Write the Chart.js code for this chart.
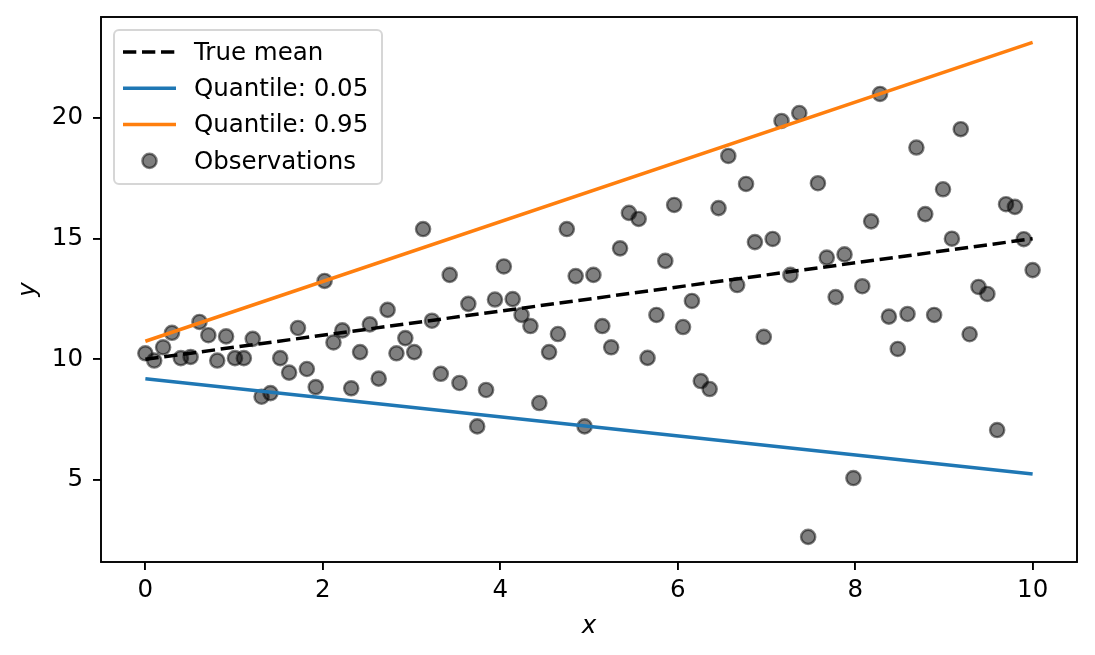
<!DOCTYPE html>
<html>
<head>
<meta charset="utf-8">
<script src="https://cdn.jsdelivr.net/npm/chart.js@4.4.1/dist/chart.umd.min.js"></script>
<style>
  html, body { margin: 0; padding: 0; background: #fff; }
  #wrap { width: 1095px; height: 655px; }
</style>
</head>
<body>
<div id="wrap"><canvas id="quantChart" width="1095" height="655"></canvas></div>
<script>
// observations (x grid and y values)
const xObs = [
  0.00, 0.10, 0.20, 0.30, 0.40, 0.51, 0.61, 0.71, 0.81, 0.91,
  1.01, 1.11, 1.21, 1.31, 1.41, 1.52, 1.62, 1.72, 1.82, 1.92,
  2.02, 2.12, 2.22, 2.32, 2.42, 2.53, 2.63, 2.73, 2.83, 2.93,
  3.03, 3.13, 3.23, 3.33, 3.43, 3.54, 3.64, 3.74, 3.84, 3.94,
  4.04, 4.14, 4.24, 4.34, 4.44, 4.55, 4.65, 4.75, 4.85, 4.95,
  5.05, 5.15, 5.25, 5.35, 5.45, 5.56, 5.66, 5.76, 5.86, 5.96,
  6.06, 6.16, 6.26, 6.36, 6.46, 6.57, 6.67, 6.77, 6.87, 6.97,
  7.07, 7.17, 7.27, 7.37, 7.47, 7.58, 7.68, 7.78, 7.88, 7.98,
  8.08, 8.18, 8.28, 8.38, 8.48, 8.59, 8.69, 8.79, 8.89, 8.99,
  9.09, 9.19, 9.29, 9.39, 9.49, 9.60, 9.70, 9.80, 9.90, 10.00
];
const yObs = [
  10.25, 9.95, 10.5, 11.1, 10.05, 10.1, 11.55, 11.0, 9.95, 10.95,
  10.05, 10.05, 10.85, 8.45, 8.6, 10.05, 9.45, 11.3, 9.6, 8.85,
  13.25, 10.7, 11.2, 8.8, 10.3, 11.45, 9.2, 12.05, 10.25, 10.88,
  10.3, 15.4, 11.6, 9.4, 13.5, 9.02, 12.3, 7.22, 8.73, 12.48,
  13.85, 12.5, 11.84, 11.38, 8.19, 10.3, 11.05, 15.4, 13.45, 7.22,
  13.5, 11.38, 10.5, 14.6, 16.07, 15.82, 10.06, 11.84, 14.08, 16.4,
  11.34, 12.42, 9.1, 8.77, 16.27, 18.43, 13.08, 17.27, 14.86, 10.93,
  14.99, 19.88, 13.5, 20.21, 2.64, 17.3, 14.22, 12.58, 14.35, 5.08,
  13.03, 15.72, 21.0, 11.77, 10.43, 11.88, 18.78, 16.02, 11.84, 17.05,
  15.0, 19.54, 11.04, 13.0, 12.71, 7.07, 16.43, 16.32, 14.98, 13.7
];

// straight lines: value at x = 0 and x = 10
const lineX = [0, 10];
const trueMean = [10, 15];
const q05 = [9.2, 5.25];
const q95 = [10.75, 23.14];

const seriesLabels = ['True mean', 'Quantile: 0.05', 'Quantile: 0.95', 'Observations'];
const xTicks = [0, 2, 4, 6, 8, 10];
const yTicks = [5, 10, 15, 20];

const FONT = 'DejaVu Sans';
const FSIZE = 24.5;

const toPoints = (xs, ys) => xs.map((x, i) => ({ x: x, y: ys[i] }));

// box round the plot, like the matplotlib spines
const frameBox = {
  id: 'frameBox',
  afterDatasetsDraw(chart) {
    const a = chart.chartArea;
    const ctx = chart.ctx;
    ctx.save();
    ctx.strokeStyle = '#000';
    ctx.lineWidth = 1.9;
    ctx.strokeRect(a.left, a.top, a.right - a.left, a.bottom - a.top);
    ctx.restore();
  }
};

// legend drawn in the upper left corner of the plot
const innerLegend = {
  id: 'innerLegend',
  afterDraw(chart) {
    const ctx = chart.ctx;
    const a = chart.chartArea;
    const x0 = a.left + 13, y0 = a.top + 13, w = 268, h = 154;

    ctx.save();
    ctx.beginPath();
    if (ctx.roundRect) ctx.roundRect(x0, y0, w, h, 5);
    else ctx.rect(x0, y0, w, h);
    ctx.fillStyle = 'rgba(255,255,255,0.8)';
    ctx.fill();
    ctx.strokeStyle = 'rgba(204,204,204,0.8)';
    ctx.lineWidth = 2;
    ctx.stroke();

    ctx.font = FSIZE + 'px "' + FONT + '"';
    ctx.textAlign = 'left';
    ctx.textBaseline = 'alphabetic';

    chart.data.datasets.forEach((ds, k) => {
      const cy = y0 + 22 + k * 36.3;
      if (ds.showLine) {
        ctx.beginPath();
        ctx.setLineDash(ds.borderDash || []);
        ctx.strokeStyle = ds.borderColor;
        ctx.lineWidth = ds.borderWidth;
        ctx.moveTo(x0 + 9, cy);
        ctx.lineTo(x0 + 62, cy);
        ctx.stroke();
        ctx.setLineDash([]);
      } else {
        ctx.beginPath();
        ctx.arc(x0 + 35.5, cy, ds.pointRadius, 0, Math.PI * 2);
        ctx.fillStyle = ds.pointBackgroundColor;
        ctx.fill();
        ctx.strokeStyle = ds.pointBorderColor;
        ctx.lineWidth = ds.pointBorderWidth;
        ctx.stroke();
      }
      ctx.fillStyle = '#000';
      ctx.fillText(ds.label, x0 + 80, cy + 7.8);
    });
    ctx.restore();
  }
};

const ctx = document.getElementById('quantChart').getContext('2d');

new Chart(ctx, {
  type: 'scatter',
  data: {
    datasets: [
      {
        label: seriesLabels[0],
        data: toPoints(lineX, trueMean),
        showLine: true,
        borderColor: '#000000',
        borderWidth: 3.5,
        borderDash: [13.3, 5.7],
        pointRadius: 0,
        fill: false
      },
      {
        label: seriesLabels[1],
        data: toPoints(lineX, q05),
        showLine: true,
        borderColor: '#1f77b4',
        borderWidth: 3.5,
        pointRadius: 0,
        fill: false
      },
      {
        label: seriesLabels[2],
        data: toPoints(lineX, q95),
        showLine: true,
        borderColor: '#ff7f0e',
        borderWidth: 3.5,
        pointRadius: 0,
        fill: false
      },
      {
        label: seriesLabels[3],
        data: toPoints(xObs, yObs),
        showLine: false,
        pointBackgroundColor: 'rgba(0,0,0,0.5)',
        pointBorderColor: 'rgba(0,0,0,0.5)',
        pointBorderWidth: 2.4,
        pointRadius: 7.1,
        pointHoverRadius: 7.1
      }
    ]
  },
  options: {
    responsive: false,
    animation: false,
    events: [],
    layout: { padding: { left: 0, top: 17, right: 18, bottom: 0 } },
    plugins: {
      legend: { display: false },
      tooltip: { enabled: false }
    },
    scales: {
      x: {
        type: 'linear',
        min: -0.5,
        max: 10.5,
        afterBuildTicks: s => { s.ticks = xTicks.map(v => ({ value: v })); },
        afterFit: s => { s.height = 93; s.paddingLeft = 0; s.paddingRight = 0; },
        border: { display: false },
        grid: { drawOnChartArea: false, color: '#000', lineWidth: 1.9, tickLength: 8 },
        ticks: {
          color: '#000',
          font: { family: FONT, size: FSIZE },
          padding: 6,
          maxRotation: 0,
          callback: v => String(v)
        },
        title: {
          display: true,
          text: 'x',
          color: '#000',
          font: { family: FONT, size: FSIZE, style: 'italic' },
          padding: { top: 0, bottom: 13.3 }
        }
      },
      y: {
        type: 'linear',
        min: 1.6,
        max: 24.19,
        afterBuildTicks: s => { s.ticks = yTicks.map(v => ({ value: v })); },
        afterFit: s => { s.width = 101; s.paddingTop = 0; s.paddingBottom = 0; },
        border: { display: false },
        grid: { drawOnChartArea: false, color: '#000', lineWidth: 1.9, tickLength: 8 },
        ticks: {
          color: '#000',
          font: { family: FONT, size: FSIZE },
          padding: 10,
          callback: v => String(v)
        },
        title: {
          display: true,
          text: 'y',
          color: '#000',
          font: { family: FONT, size: FSIZE, style: 'italic' },
          padding: { top: 14.3, bottom: 0 }
        }
      }
    }
  },
  plugins: [frameBox, innerLegend]
});
</script>
</body>
</html>
